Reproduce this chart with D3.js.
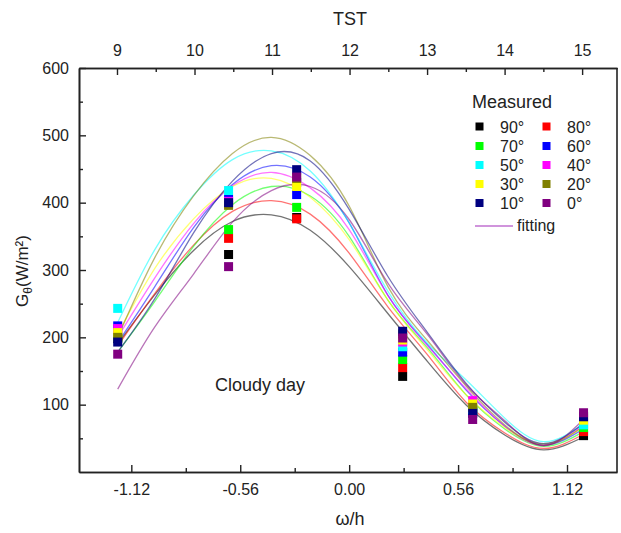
<!DOCTYPE html>
<html><head><meta charset="utf-8">
<script src="https://cdn.jsdelivr.net/npm/d3@7"></script>
<style>body{margin:0;background:#fff}svg{display:block}text{font-family:"Liberation Sans",Arial,sans-serif;fill:#222}</style>
</head><body><svg id="c" width="621" height="533"></svg>
<script>
// ---- data ----
const angles = ["90°","80°","70°","60°","50°","40°","30°","20°","10°","0°"];
const colors = ["#000000","#ff0000","#00ff00","#0000ff","#00ffff","#ff00ff","#ffff00","#808000","#000080","#800080"];
const measOmega = [-1.19,-0.62,-0.27,0.275,0.635,1.205];
const meas90 = [198,323,378,142,90,54];
const meas80 = [203,347,376,155,92,60];
const meas70 = [200,360,393,167,91,66];
const meas60 = [217,405,412,178,89,73];
const meas50 = [243,418,430,186,93,70];
const meas40 = [213,402,430,193,106,79];
const meas30 = [207,398,424,196,101,77];
const meas20 = [200,396,436,205,96,83];
const meas10 = [193,400,449,209,87,82];
const meas0  = [175,305,438,199,78,88];
const fitOmega = [-1.19,-1.0,-0.8,-0.6,-0.4,-0.2,0,0.2,0.4,0.6,0.8,1.0,1.205];
const fit90 = [190,263,329,372,382,359,305,235,165,100,55,33,52];
const fit80 = [187,265,337,387,403,383,325,245,175,104,58,35,56];
const fit70 = [178,253,335,397,424,410,350,255,185,115,64,38,60];
const fit60 = [192,275,363,427,455,438,370,262,190,122,68,40,64];
const fit50 = [222,330,411,464,477,447,370,268,192,137,80,45,72];
const fit40 = [200,288,369,425,445,422,360,262,188,124,68,40,70];
const fit30 = [205,302,376,424,436,408,345,255,182,115,66,42,66];
const fit20 = [200,318,410,473,497,470,395,275,196,128,70,40,68];
const fit10 = [178,257,355,432,473,462,390,290,208,132,74,42,72];
const fit0  = [123,215,294,371,418,424,375,280,205,130,76,39,78];
const bottomTicks = [-1.12,-0.56,0,0.56,1.12];
const bottomMinor = [-0.84,-0.28,0.28,0.84];
const topTicks = [9,10,11,12,13,14,15];
const topMinor = [9.5,10.5,11.5,12.5,13.5,14.5];
const leftTicks = [100,200,300,400,500,600];
const leftMinor = [50,150,250,350,450,550];

const measured = [meas90,meas80,meas70,meas60,meas50,meas40,meas30,meas20,meas10,meas0];
const fits = [fit90,fit80,fit70,fit60,fit50,fit40,fit30,fit20,fit10,fit0];

// ---- layout ----
const L=79,R=617,T=68,B=472;
const svg = d3.select("#c");
const x = d3.scaleLinear().domain([-1.389,1.377]).range([L,R]);
const xTop = d3.scaleLinear().domain([8.51,15.45]).range([L,R]);
const y = d3.scaleLinear().domain([0,600]).range([B,T]);

// fits
const line = d3.line().x(d=>x(d[0])).y(d=>y(d[1])).curve(d3.curveNatural);
fits.forEach((f,i)=>{
  svg.append("path").datum(fitOmega.map((w,j)=>[w,f[j]]))
    .attr("d",line).attr("fill","none").attr("stroke",colors[i])
    .attr("stroke-opacity",0.55).attr("stroke-width",1.3);
});
// measured squares
const S=9;
measured.forEach((m,i)=>{
  svg.append("g").selectAll("rect").data(measOmega.map((w,j)=>[w,m[j]])).join("rect")
    .attr("x",d=>x(d[0])-S/2).attr("y",d=>y(d[1])-S/2)
    .attr("width",S).attr("height",S).attr("fill",colors[i]);
});

// axes
function styleAxis(g){
  g.select(".domain").attr("stroke","#222").attr("stroke-width",1.6);
  g.selectAll(".tick line").attr("stroke","#222").attr("stroke-width",1.4);
  g.selectAll(".tick text").style("font-size","16px").attr("fill","#222");
}
const fmt = d=>d.toFixed(2);
svg.append("g").attr("transform",`translate(0,${B})`)
  .call(d3.axisBottom(x).tickValues(bottomTicks).tickFormat(fmt).tickSizeInner(-7).tickSizeOuter(0).tickPadding(12)).call(styleAxis);
svg.append("g").attr("transform",`translate(0,${B})`)
  .call(d3.axisBottom(x).tickValues(bottomMinor).tickFormat("").tickSizeInner(-4).tickSizeOuter(0)).call(styleAxis);
svg.append("g").attr("transform",`translate(0,${T})`)
  .call(d3.axisTop(xTop).tickValues(topTicks).tickFormat(d3.format("d")).tickSizeInner(-7).tickSizeOuter(0).tickPadding(12)).call(styleAxis);
svg.append("g").attr("transform",`translate(0,${T})`)
  .call(d3.axisTop(xTop).tickValues(topMinor).tickFormat("").tickSizeInner(-4).tickSizeOuter(0)).call(styleAxis);
svg.append("g").attr("transform",`translate(${L},0)`)
  .call(d3.axisLeft(y).tickValues(leftTicks).tickFormat(d3.format("d")).tickSizeInner(-7).tickSizeOuter(0).tickPadding(10)).call(styleAxis);
svg.append("g").attr("transform",`translate(${L},0)`)
  .call(d3.axisLeft(y).tickValues(leftMinor).tickFormat("").tickSizeInner(-4).tickSizeOuter(0)).call(styleAxis);
svg.append("line").attr("x1",R).attr("x2",R).attr("y1",T).attr("y2",B).attr("stroke","#222").attr("stroke-width",1.6);

// titles
svg.append("text").attr("x",350).attr("y",25).attr("text-anchor","middle").style("font-size","18px").text("TST");
svg.append("text").attr("x",350).attr("y",525).attr("text-anchor","middle").style("font-size","18px").text("ω/h");
const yt = svg.append("text").attr("transform","translate(28,271) rotate(-90)").attr("text-anchor","middle").style("font-size","17px");
yt.append("tspan").text("G");
yt.append("tspan").attr("dy",4).style("font-size","12px").text("θ");
yt.append("tspan").attr("dy",-4).text("(W/m²)");
svg.append("text").attr("x",215).attr("y",391).style("font-size","18px").text("Cloudy day");

// legend
svg.append("text").attr("x",472).attr("y",108).style("font-size","18px").text("Measured");
const colX=[479.5,546.5], txtX=[500,567], rowY=[126.5,146,165,184,203];
angles.forEach((a,i)=>{
  const c=i%2, r=Math.floor(i/2);
  svg.append("rect").attr("x",colX[c]-4).attr("y",rowY[r]-4).attr("width",8).attr("height",8).attr("fill",colors[i]);
  svg.append("text").attr("x",txtX[c]).attr("y",rowY[r]+6).style("font-size","16px").text(a);
});
svg.append("line").attr("x1",475).attr("x2",513).attr("y1",226).attr("y2",226).attr("stroke","#c070d0").attr("stroke-width",1.5);
svg.append("text").attr("x",517).attr("y",231).style("font-size","16px").text("fitting");
</script></body></html>
